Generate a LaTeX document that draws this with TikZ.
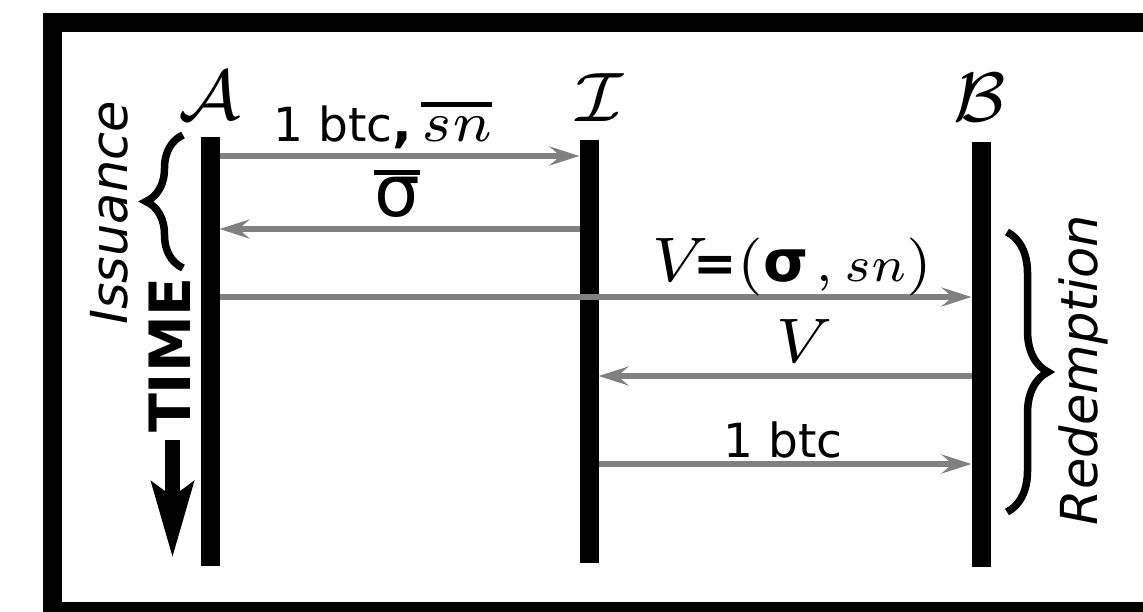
\documentclass[tikz,border=0pt]{standalone}
\usepackage{fontspec}
\setsansfont{DejaVu Sans}
\usetikzlibrary{arrows.meta,decorations.pathreplacing}
\definecolor{msggray}{HTML}{808080}
\newcommand{\fs}[1]{\fontsize{#1}{#1}\selectfont}
\newcommand{\cmf}[2]{\font\cmtmpfont=#1 at #2\relax\cmtmpfont}
\newcommand{\barbox}[3]{\vbox{\hrule height #2\kern #3\hbox{#1}}}
\begin{document}
\begin{tikzpicture}[x=1pt,y=-1pt,
  life/.style={line width=19pt, black},
  msgarrow/.style={line width=6pt, draw=msggray, -{Stealth[length=30pt,width=19pt,inset=11pt]}},
  lbl/.style={font=\sffamily\fs{47}, inner sep=0pt, anchor=base},
  actor/.style={inner sep=0pt, anchor=base},
  side/.style={font=\sffamily\itshape\fs{51}, inner sep=0pt, anchor=base, rotate=90},
  bracestyle/.style={line width=7.5pt, decorate, decoration={brace, amplitude=#1}},
  timearrow/.style={line width=15pt, -{Stealth[length=75pt,width=41pt,inset=14pt]}}
]
\useasboundingbox (0,0) rectangle (1143,612);
\begin{scope}
  \clip (0,0) rectangle (1143,612);
  \draw[line width=19pt] (52,22.5) rectangle (1180,611.5);
\end{scope}
% actors
\node[actor] (A) at (210,120) {\cmf{cmsy7}{70pt}A};
\node[actor] (I) at (597,122) {\cmf{cmsy7}{70pt}I};
\node[actor] (B) at (979,122) {\cmf{cmsy7}{70pt}B};
% lifelines
\coordinate (Atop) at (210,137); \coordinate (Abot) at (210,566);
\coordinate (Itop) at (589,140); \coordinate (Ibot) at (589,563);
\coordinate (Btop) at (981,142); \coordinate (Bbot) at (981,567);
\draw[life] (Atop) -- (Abot);
\draw[life] (Itop) -- (Ibot);
\draw[life] (Btop) -- (Bbot);
% message end points
\coordinate (A1) at (219.5,156); \coordinate (I1) at (579.5,156);
\coordinate (I2) at (579.5,229); \coordinate (A2) at (219.5,229);
\coordinate (A3) at (219.5,297); \coordinate (B3) at (971.5,297);
\coordinate (B4) at (971.5,376); \coordinate (I4) at (598.5,376);
\coordinate (I5) at (598.5,464); \coordinate (B5) at (971.5,464);
\draw[msgarrow] (A1) -- (I1);
\draw[msgarrow] (I2) -- (A2);
\draw[msgarrow] (A3) -- (B3);
\draw[msgarrow] (B4) -- (I4);
\draw[msgarrow] (I5) -- (B5);
% labels
\node[lbl] (l1) at (383,142) {1 btc{\bfseries\fs{52},}\hspace{9pt}\barbox{\cmf{cmmi7}{57pt}sn}{5pt}{10pt}};
\node[lbl] (l2) at (397,217) {\barbox{\fs{72}σ}{5pt}{3pt}};
\node[lbl] (l3) at (792,282) {{\cmf{cmmi7}{63pt}V}{\bfseries\fs{52}=}{\cmf{cmr7}{58pt}(}{\bfseries\fs{58}σ}\hspace{6pt}{\cmf{cmr5}{50pt},}\hspace{10pt}{\cmf{cmmi7}{50pt}sn}{\cmf{cmr7}{58pt})}};
\node[lbl] (l4) at (797,362) {\cmf{cmmi7}{63pt}V};
\node[lbl] (l5) at (783,457) {1 btc};
% braces and side labels
\coordinate (is1) at (183,268); \coordinate (is2) at (183,135);
\draw[bracestyle=37pt] (is1) -- (is2);
\node[side] (iss) at (127,213) {Issuance};
\coordinate (rd1) at (1007,232); \coordinate (rd2) at (1007,512);
\draw[bracestyle=41pt] (rd1) -- (rd2);
\node[side] (red) at (1097,370) {Redemption};
% time
\node[font=\sffamily\bfseries\fs{57}, inner sep=0pt, anchor=base, rotate=90] (time) at (190,355) {TIME};
\coordinate (t1) at (172.5,440); \coordinate (t2) at (172.5,558);
\draw[timearrow] (t1) -- (t2);
\end{tikzpicture}
\end{document}
